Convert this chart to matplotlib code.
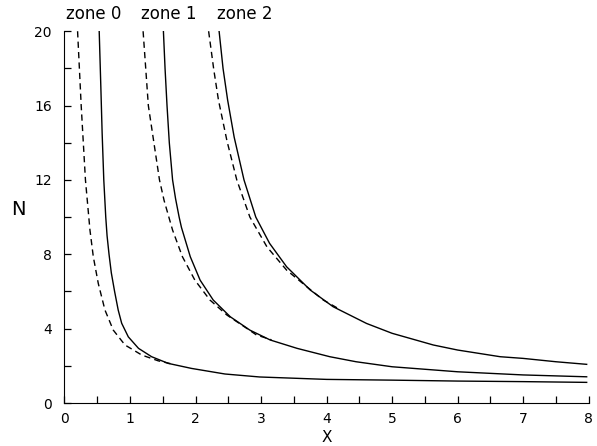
import matplotlib
matplotlib.use('Agg')
import matplotlib.pyplot as plt
from matplotlib.ticker import MultipleLocator

# values (X, N)
zone0_x = [0.53, 0.555, 0.575, 0.60, 0.63, 0.65, 0.68, 0.715, 0.765, 0.82, 0.873, 0.974, 1.13, 1.33, 1.585, 1.94, 2.45, 2.98, 4.0, 5.0, 6.0, 7.0, 7.97]
zone0_n = [20.0, 17.0, 14.5, 12.0, 10.0, 9.0, 8.0, 7.0, 6.0, 5.0, 4.29, 3.56, 2.94, 2.49, 2.13, 1.86, 1.56, 1.40, 1.27, 1.23, 1.18, 1.15, 1.11]
zone0_dx = [0.20, 0.255, 0.32, 0.389, 0.44, 0.516, 0.618, 0.745, 0.924, 1.18, 1.43, 1.64]
zone0_dn = [20.0, 16.0, 12.0, 9.30, 7.87, 6.43, 5.00, 3.92, 3.12, 2.58, 2.27, 2.10]

zone1_x = [1.51, 1.535, 1.565, 1.60, 1.65, 1.695, 1.75, 1.785, 1.92, 2.07, 2.27, 2.53, 2.83, 3.14, 3.55, 4.05, 4.45, 5.0, 6.0, 7.0, 7.97]
zone1_n = [20.0, 18.0, 16.0, 14.0, 12.0, 11.0, 10.0, 9.45, 7.87, 6.61, 5.54, 4.64, 3.92, 3.39, 2.94, 2.49, 2.22, 1.95, 1.68, 1.51, 1.41]
zone1_dx = [1.20, 1.28, 1.45, 1.52, 1.65, 1.80, 1.99, 2.22, 2.48, 2.78, 2.93, 3.16]
zone1_dn = [20.0, 16.0, 12.0, 10.9, 9.30, 7.87, 6.61, 5.54, 4.73, 4.02, 3.66, 3.40]

zone2_x = [2.36, 2.42, 2.49, 2.59, 2.74, 2.92, 3.13, 3.39, 3.75, 4.10, 4.61, 5.0, 5.63, 6.0, 6.65, 7.0, 7.5, 7.97]
zone2_n = [20.0, 18.0, 16.3, 14.3, 12.0, 10.0, 8.59, 7.33, 6.08, 5.18, 4.28, 3.75, 3.12, 2.85, 2.49, 2.40, 2.22, 2.08]
zone2_dx = [2.20, 2.28, 2.35, 2.48, 2.63, 2.83, 3.09, 3.39, 3.70, 3.95, 4.18]
zone2_dn = [20.0, 17.9, 16.3, 14.1, 12.0, 10.0, 8.40, 7.15, 6.25, 5.54, 5.08]

zone_labels = ['zone 0', 'zone 1', 'zone 2']
zone_label_x = [0.45, 1.595, 2.755]

fig = plt.figure(figsize=(5.97, 4.46), dpi=100)
ax = fig.add_axes([0.108, 0.0964, 0.878, 0.8336])

for sx, sn in [(zone0_x, zone0_n), (zone1_x, zone1_n), (zone2_x, zone2_n)]:
    ax.plot(sx, sn, color='black', lw=1.0, solid_joinstyle='round')
for dx, dn in [(zone0_dx, zone0_dn), (zone1_dx, zone1_dn), (zone2_dx, zone2_dn)]:
    ax.plot(dx, dn, color='black', lw=1.0, linestyle=(0, (4.5, 3)))

ax.set_xlim(0, 8)
ax.set_ylim(0, 20)
ax.xaxis.set_major_locator(MultipleLocator(1))
ax.xaxis.set_minor_locator(MultipleLocator(0.5))
ax.yaxis.set_major_locator(MultipleLocator(4))
ax.yaxis.set_minor_locator(MultipleLocator(2))
ax.tick_params(which='both', direction='in', length=5, width=0.9, labelsize=10)
ax.tick_params(axis='y', pad=9)
ax.tick_params(axis='x', pad=6.5)
ax.spines['top'].set_visible(False)
ax.spines['right'].set_visible(False)

ax.set_xlabel('X', fontsize=11)
ax.xaxis.set_label_coords(0.5, -0.072)
ax.set_ylabel('N', fontsize=14, rotation=0, ha='center', va='center')
ax.yaxis.set_label_coords(-0.087, 0.52)

for lab, lx in zip(zone_labels, zone_label_x):
    ax.text(lx, 20.45, lab, fontsize=12, ha='center', va='bottom')

plt.savefig('out.png', dpi=100)
